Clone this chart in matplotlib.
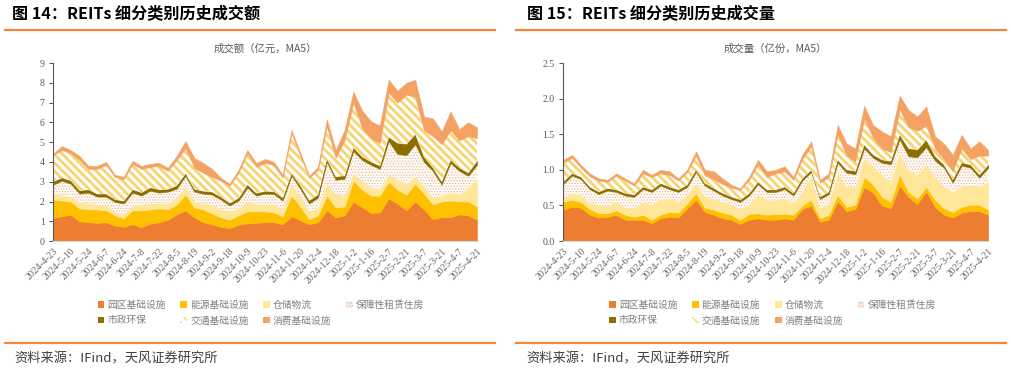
import numpy as np
import matplotlib.pyplot as plt
from matplotlib.patches import Patch
from matplotlib.lines import Line2D

plt.rcParams['font.family'] = ['Noto Sans CJK SC', 'DejaVu Sans']

tick_dates = ['2024-4-23', '2024-5-10', '2024-5-24', '2024-6-7', '2024-6-24', '2024-7-8',
              '2024-7-22', '2024-8-5', '2024-8-19', '2024-9-2', '2024-9-18', '2024-10-9',
              '2024-10-23', '2024-11-6', '2024-11-20', '2024-12-4', '2024-12-18', '2025-1-2',
              '2025-1-16', '2025-2-7', '2025-2-21', '2025-3-7', '2025-3-21', '2025-4-7', '2025-4-21']
names = ['园区基础设施', '能源基础设施', '仓储物流', '保障性租赁住房', '市政环保', '交通基础设施', '消费基础设施']

# 成交额（亿元，MA5），每5个交易日一个点
amt_park = [1.17, 1.25, 1.33, 1.00, 0.95, 0.92, 0.95, 0.78, 0.72, 0.85,
            0.70, 0.88, 0.95, 1.08, 1.35, 1.55, 1.20, 0.95, 0.85, 0.72,
            0.65, 0.82, 0.90, 0.92, 0.95, 0.95, 0.85, 1.25, 1.05, 0.85,
            0.95, 1.55, 1.20, 1.30, 2.00, 1.70, 1.42, 1.45, 2.15, 1.90,
            1.55, 2.00, 1.60, 1.10, 1.20, 1.20, 1.35, 1.30, 1.08]
amt_energy = [0.93, 0.80, 0.67, 0.65, 0.65, 0.68, 0.60, 0.52, 0.43, 0.70,
              0.85, 0.72, 0.70, 0.52, 0.50, 0.80, 0.50, 0.65, 0.55, 0.48,
              0.43, 0.48, 0.60, 0.58, 0.55, 0.50, 0.40, 1.05, 0.70, 0.25,
              0.35, 0.75, 0.50, 0.45, 1.05, 0.90, 0.88, 0.85, 0.85, 0.70,
              0.80, 0.90, 0.80, 0.75, 0.80, 0.85, 0.65, 0.70, 0.67]
amt_storage = [0.30, 0.25, 0.25, 0.30, 0.30, 0.25, 0.25, 0.15, 0.20, 0.25,
               0.30, 0.30, 0.25, 0.30, 0.35, 0.40, 0.30, 0.30, 0.45, 0.40,
               0.42, 0.35, 0.50, 0.35, 0.35, 0.40, 0.35, 0.60, 0.55, 0.40,
               0.35, 0.60, 0.65, 0.55, 0.35, 0.45, 0.40, 0.30, 0.35, 0.50,
               0.55, 0.35, 0.40, 0.35, 0.30, 0.40, 0.35, 0.70, 1.40]
amt_housing = [0.45, 0.75, 0.65, 0.45, 0.55, 0.40, 0.45, 0.53, 0.55, 0.65,
               0.45, 0.65, 0.55, 0.60, 0.45, 0.55, 0.50, 0.50, 0.50, 0.50,
               0.30, 0.40, 0.70, 0.45, 0.55, 0.53, 0.45, 0.40, 0.35, 0.40,
               0.55, 1.10, 0.75, 0.85, 1.15, 1.05, 1.15, 1.05, 1.70, 1.30,
               1.45, 1.65, 1.20, 1.35, 0.55, 1.50, 1.20, 0.60, 0.70]
amt_muni = [0.15, 0.15, 0.15, 0.15, 0.15, 0.13, 0.13, 0.12, 0.12, 0.15,
            0.15, 0.15, 0.15, 0.12, 0.15, 0.12, 0.12, 0.12, 0.13, 0.12,
            0.12, 0.13, 0.15, 0.12, 0.12, 0.12, 0.13, 0.12, 0.15, 0.15,
            0.15, 0.15, 0.15, 0.15, 0.17, 0.15, 0.15, 0.15, 0.20, 0.55,
            0.55, 0.50, 0.25, 0.15, 0.15, 0.15, 0.15, 0.15, 0.20]
amt_transport = [1.35, 1.40, 1.40, 1.55, 1.05, 1.27, 1.47, 1.15, 1.10, 1.30,
                 1.20, 1.05, 1.20, 0.93, 1.30, 1.28, 1.08, 0.93, 0.77, 0.83,
                 0.88, 1.27, 1.60, 1.33, 1.43, 1.35, 1.02, 2.03, 1.50, 1.15,
                 1.25, 1.65, 0.95, 1.80, 2.28, 1.45, 1.20, 1.15, 2.25, 2.05,
                 2.50, 1.90, 1.35, 1.60, 1.90, 1.50, 1.40, 1.85, 1.15]
amt_consumer = [0.05, 0.20, 0.15, 0.20, 0.15, 0.15, 0.15, 0.10, 0.13, 0.15,
                0.15, 0.15, 0.15, 0.15, 0.20, 0.35, 0.50, 0.50, 0.40, 0.15,
                0.10, 0.15, 0.15, 0.20, 0.20, 0.15, 0.15, 0.15, 0.15, 0.10,
                0.15, 0.35, 0.40, 0.50, 0.55, 0.90, 0.85, 0.90, 0.65, 0.60,
                0.60, 0.85, 0.70, 0.90, 0.65, 0.95, 0.55, 0.70, 0.55]

# 成交量（亿份，MA5）
vol_park = [0.44, 0.48, 0.47, 0.37, 0.33, 0.34, 0.37, 0.30, 0.30, 0.30,
            0.25, 0.32, 0.34, 0.33, 0.46, 0.58, 0.41, 0.37, 0.32, 0.30,
            0.24, 0.30, 0.32, 0.30, 0.30, 0.32, 0.30, 0.45, 0.50, 0.27,
            0.30, 0.56, 0.42, 0.45, 0.76, 0.68, 0.50, 0.46, 0.78, 0.62,
            0.52, 0.70, 0.48, 0.37, 0.33, 0.40, 0.42, 0.42, 0.37]
vol_energy = [0.11, 0.10, 0.08, 0.08, 0.06, 0.05, 0.06, 0.07, 0.04, 0.07,
              0.05, 0.05, 0.07, 0.07, 0.07, 0.09, 0.06, 0.07, 0.08, 0.07,
              0.06, 0.08, 0.07, 0.07, 0.08, 0.06, 0.07, 0.05, 0.08, 0.05,
              0.07, 0.09, 0.06, 0.06, 0.14, 0.11, 0.12, 0.09, 0.15, 0.07,
              0.08, 0.06, 0.10, 0.09, 0.08, 0.08, 0.09, 0.09, 0.07]
vol_storage = [0.07, 0.08, 0.10, 0.08, 0.12, 0.10, 0.12, 0.10, 0.12, 0.18,
               0.21, 0.21, 0.19, 0.15, 0.12, 0.14, 0.16, 0.15, 0.15, 0.14,
               0.15, 0.13, 0.26, 0.20, 0.20, 0.22, 0.16, 0.19, 0.32, 0.14,
               0.16, 0.30, 0.28, 0.25, 0.26, 0.26, 0.31, 0.28, 0.30, 0.31,
               0.33, 0.31, 0.32, 0.30, 0.28, 0.28, 0.28, 0.25, 0.39]
vol_housing = [0.18, 0.26, 0.22, 0.20, 0.15, 0.22, 0.14, 0.17, 0.16, 0.18,
               0.18, 0.20, 0.13, 0.14, 0.11, 0.16, 0.15, 0.12, 0.09, 0.08,
               0.10, 0.13, 0.15, 0.12, 0.11, 0.13, 0.11, 0.16, 0.07, 0.13,
               0.13, 0.15, 0.20, 0.18, 0.14, 0.12, 0.17, 0.25, 0.20, 0.19,
               0.25, 0.25, 0.23, 0.27, 0.13, 0.30, 0.24, 0.13, 0.20]
vol_muni = [0.03, 0.03, 0.03, 0.03, 0.03, 0.03, 0.03, 0.03, 0.03, 0.03,
            0.03, 0.03, 0.03, 0.03, 0.03, 0.03, 0.03, 0.03, 0.03, 0.03,
            0.03, 0.03, 0.03, 0.03, 0.03, 0.03, 0.03, 0.03, 0.03, 0.03,
            0.03, 0.04, 0.04, 0.04, 0.05, 0.04, 0.04, 0.04, 0.06, 0.11,
            0.10, 0.10, 0.06, 0.04, 0.04, 0.04, 0.04, 0.04, 0.04]
vol_transport = [0.27, 0.22, 0.13, 0.15, 0.16, 0.09, 0.20, 0.18, 0.13, 0.19,
                 0.18, 0.14, 0.17, 0.13, 0.18, 0.20, 0.11, 0.13, 0.13, 0.13,
                 0.14, 0.19, 0.25, 0.18, 0.23, 0.22, 0.19, 0.27, 0.33, 0.20,
                 0.21, 0.36, 0.20, 0.14, 0.37, 0.24, 0.16, 0.13, 0.36, 0.30,
                 0.27, 0.20, 0.11, 0.08, 0.12, 0.20, 0.08, 0.27, 0.13]
vol_consumer = [0.04, 0.04, 0.04, 0.04, 0.03, 0.03, 0.03, 0.03, 0.03, 0.05,
                0.03, 0.05, 0.05, 0.03, 0.03, 0.06, 0.08, 0.11, 0.08, 0.04,
                0.02, 0.04, 0.06, 0.08, 0.05, 0.07, 0.04, 0.06, 0.07, 0.04,
                0.05, 0.13, 0.17, 0.18, 0.18, 0.18, 0.24, 0.22, 0.19, 0.24,
                0.20, 0.27, 0.17, 0.22, 0.23, 0.19, 0.15, 0.20, 0.08]

# facecolor, hatch colour, hatch, hatch linewidth
styles = [('#ED7D31', '#ED7D31', None, 1.0),
          ('#FFC000', '#FFC000', None, 1.0),
          ('#FFE699', '#FFE699', None, 1.0),
          ('#FFFBF5', '#E2B497', '......', 0.5),
          ('#8C6D00', '#8C6D00', None, 1.0),
          ('white', '#F8D46E', '\\\\\\\\', 2.0),
          ('#F4A264', '#F4A264', None, 1.0)]

orange = '#F0883C'
grey = '#7F7F7F'


def draw_panel(ax, series, ymax, yticks, yfmt, title):
    x = np.arange(len(series[0]))
    base = np.zeros(len(x))
    for vals, (fc, hc, hatch, hlw) in zip(series, styles):
        top = base + np.array(vals)
        with plt.rc_context({'hatch.linewidth': hlw}):
            ax.fill_between(x, base, top, facecolor=fc, edgecolor=hc, hatch=hatch,
                            linewidth=0 if hatch else 0.4)
        base = top
    ax.set_xlim(0, len(x) - 1)
    ax.set_ylim(0, ymax)
    ax.set_yticks(yticks)
    ax.set_yticklabels([yfmt % t for t in yticks], family='Liberation Serif', fontsize=7, color='#595959')
    ax.set_xticks(x[::2])
    ax.set_xticklabels(tick_dates, rotation=45, ha='right', rotation_mode='anchor',
                       family='Liberation Serif', fontsize=7, color='#666666')
    ax.tick_params(axis='x', length=0, pad=4)
    ax.tick_params(axis='y', length=3, width=0.8, color='#595959', pad=3)
    for s in ['top', 'right']:
        ax.spines[s].set_visible(False)
    ax.spines['left'].set_color('#595959')
    ax.spines['left'].set_linewidth(0.8)
    ax.spines['bottom'].set_color('#D9D9D9')
    ax.set_title(title, fontsize=7.5, color='#595959', pad=8)


fig = plt.figure(figsize=(10.11, 3.72), dpi=100)
ax1 = fig.add_axes([0.0524, 0.352, 0.4194, 0.4785])
ax2 = fig.add_axes([0.557, 0.352, 0.4204, 0.4785])

draw_panel(ax1, [amt_park, amt_energy, amt_storage, amt_housing, amt_muni, amt_transport, amt_consumer],
           9, list(range(10)), '%d', '成交额（亿元，MA5）')
draw_panel(ax2, [vol_park, vol_energy, vol_storage, vol_housing, vol_muni, vol_transport, vol_consumer],
           2.5, [0, 0.5, 1.0, 1.5, 2.0, 2.5], '%.1f', '成交量（亿份，MA5）')

# legend: matplotlib fills columns first, so order the handles to read row by row
order = [0, 4, 1, 5, 2, 6, 3]
handles = []
for i in order:
    fc, hc, hatch, hlw = styles[i]
    handles.append(Patch(facecolor=fc, edgecolor=hc, hatch=hatch, linewidth=0, label=names[i]))
for cx in [0.258, 0.764]:
    fig.legend(handles=handles, loc='center', bbox_to_anchor=(cx, 0.16), ncol=4, frameon=False,
               fontsize=7, labelcolor=grey, handlelength=0.7, handleheight=0.7, handletextpad=0.3,
               columnspacing=1.5, labelspacing=0.6)

# header, rules and source
fig.text(0.012, 0.962, '图 14：REITs 细分类别历史成交额', fontsize=11.6, fontweight='bold', va='center')
fig.text(0.521, 0.962, '图 15：REITs 细分类别历史成交量', fontsize=11.6, fontweight='bold', va='center')
for x0, x1 in [(0.005, 0.49), (0.51, 0.995)]:
    fig.add_artist(Line2D([x0, x1], [0.919, 0.919], color=orange, linewidth=1.6))
    fig.add_artist(Line2D([x0, x1], [0.078, 0.078], color=orange, linewidth=1.6))
fig.text(0.014, 0.036, '资料来源：IFind，天风证券研究所', fontsize=9.5, color='#404040', va='center')
fig.text(0.521, 0.036, '资料来源：IFind，天风证券研究所', fontsize=9.5, color='#404040', va='center')

fig.savefig('out.png', dpi=100)
